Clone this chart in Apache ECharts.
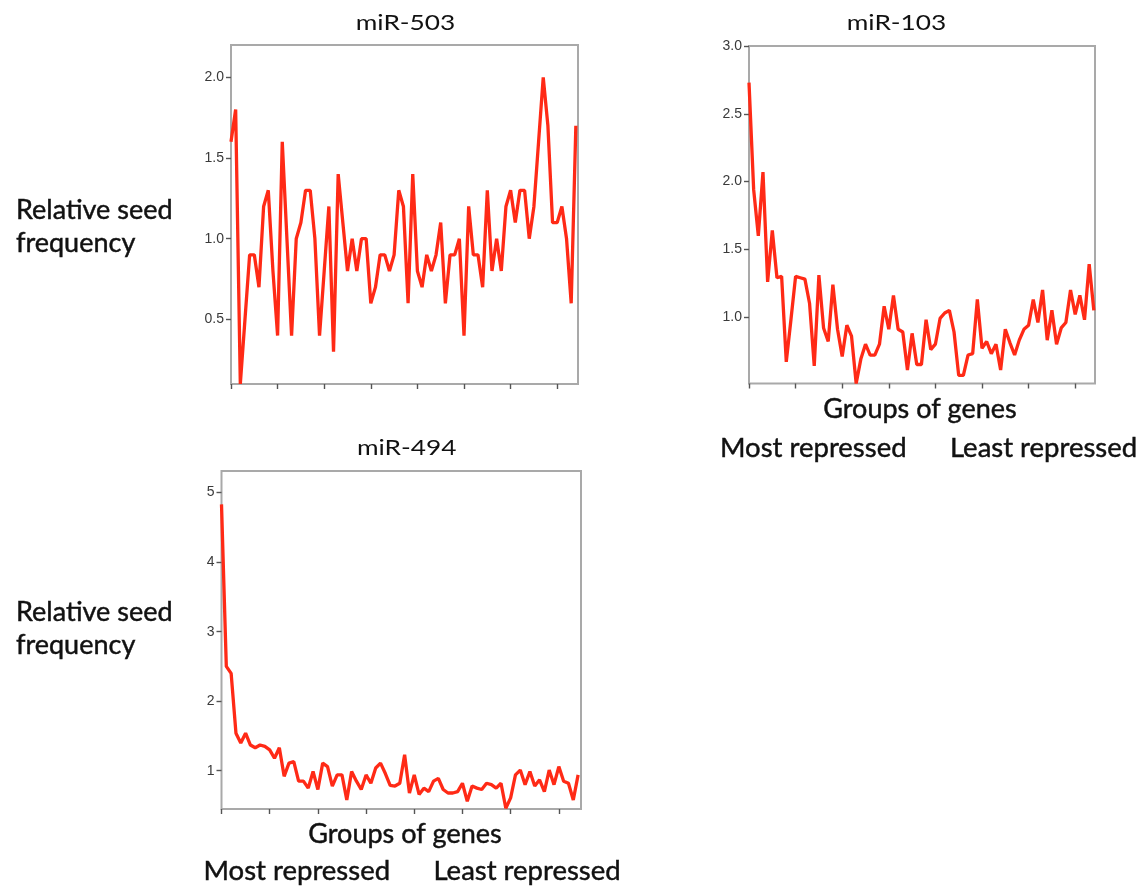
<!DOCTYPE html>
<html>
<head>
<meta charset="utf-8">
<script src="https://cdn.jsdelivr.net/npm/echarts@6/dist/echarts.min.js"></script>
<style>
  html, body { margin: 0; padding: 0; background: #fff; }
  #chart { width: 1144px; height: 888px; }
</style>
</head>
<body>
<div id="chart"></div>
<script>
// Relative seed frequency for 75 gene groups, ordered from most to least repressed
const mir503 = [
  1.6, 1.8, 0.1, 0.5, 0.9, 0.9, 0.7, 1.2, 1.3, 0.8,
  0.4, 1.6, 1.0, 0.4, 1.0, 1.1, 1.3, 1.3, 1.0, 0.4,
  0.8, 1.2, 0.3, 1.4, 1.1, 0.8, 1.0, 0.8, 1.0, 1.0,
  0.6, 0.7, 0.9, 0.9, 0.8, 0.9, 1.3, 1.2, 0.6, 1.4,
  0.8, 0.7, 0.9, 0.8, 0.9, 1.1, 0.6, 0.9, 0.9, 1.0,
  0.4, 1.2, 0.9, 0.9, 0.7, 1.3, 0.8, 1.0, 0.8, 1.2,
  1.3, 1.1, 1.3, 1.3, 1.0, 1.2, 1.6, 2.0, 1.7, 1.1,
  1.1, 1.2, 1.0, 0.6, 1.7
];
const mir103 = [
  2.73, 1.94, 1.60, 2.07, 1.26, 1.64, 1.29, 1.30, 0.67, 0.98,
  1.30, 1.29, 1.28, 1.10, 0.64, 1.31, 0.92, 0.82, 1.24, 0.91,
  0.71, 0.94, 0.86, 0.51, 0.69, 0.80, 0.72, 0.72, 0.80, 1.08,
  0.91, 1.16, 0.91, 0.89, 0.61, 0.88, 0.65, 0.65, 0.98, 0.76,
  0.80, 0.99, 1.03, 1.05, 0.89, 0.57, 0.57, 0.72, 0.73, 1.13,
  0.77, 0.82, 0.73, 0.80, 0.61, 0.91, 0.81, 0.72, 0.83, 0.91,
  0.94, 1.13, 0.96, 1.20, 0.83, 1.05, 0.80, 0.92, 0.96, 1.20,
  1.02, 1.16, 0.98, 1.39, 1.05
];
const mir494 = [
  4.83, 2.50, 2.40, 1.54, 1.40, 1.54, 1.37, 1.33, 1.37, 1.35,
  1.30, 1.18, 1.33, 0.92, 1.11, 1.13, 0.85, 0.85, 0.75, 0.99,
  0.73, 1.11, 1.06, 0.78, 0.94, 0.94, 0.58, 0.99, 0.85, 0.73,
  0.94, 0.82, 1.04, 1.11, 0.96, 0.79, 0.78, 0.82, 1.23, 0.68,
  0.94, 0.66, 0.75, 0.70, 0.85, 0.89, 0.73, 0.68, 0.68, 0.70,
  0.82, 0.56, 0.78, 0.75, 0.73, 0.82, 0.80, 0.75, 0.82, 0.46,
  0.61, 0.94, 1.01, 0.80, 0.99, 0.78, 0.87, 0.70, 1.01, 0.80,
  1.06, 0.85, 0.82, 0.58, 0.94
];

// Axis tick positions
const ticks503 = [0.5, 1.0, 1.5, 2.0];
const ticks103 = [1.0, 1.5, 2.0, 2.5, 3.0];
const ticks494 = [1, 2, 3, 4, 5];
const groupTicks = [0, 10, 20, 30, 40, 50, 60, 70];

// Text
const panelTitles = ['miR-503', 'miR-103', 'miR-494'];
const yTitle = ['Relative seed', 'frequency'];
const xTitle = 'Groups of genes';
const xEnds = ['Most repressed', 'Least repressed'];

const LINE = '#ff2a16';
const BORDER = '#a9a9a9';
const LABEL_FONT = '"Liberation Sans", Arial, sans-serif';
const TEXT_FONT = 'Lato, "Noto Sans", sans-serif';
const INK = '#111111';

const panels = [
  { data: mir503, ticks: ticks503, dec: 1, grid: { left: 231, top: 45, width: 347, height: 339 }, y: [0.1, 2.2], xMax: 74.46 },
  { data: mir103, ticks: ticks103, dec: 1, grid: { left: 749, top: 46, width: 346, height: 337.5 }, y: [0.51, 3.0], xMax: 74.25 },
  { data: mir494, ticks: ticks494, dec: 0, grid: { left: 221.5, top: 471, width: 359.5, height: 338 }, y: [0.45, 5.31], xMax: 74.6 }
];

const grid = panels.map(p => Object.assign({
  show: true, borderColor: BORDER, borderWidth: 2, backgroundColor: '#fff'
}, p.grid));

const xAxis = panels.map((p, i) => ({
  type: 'value', gridIndex: i, min: 0, max: p.xMax,
  axisLine: { show: false },
  splitLine: { show: false },
  axisLabel: { show: false },
  axisTick: { show: true, customValues: groupTicks, length: 5, lineStyle: { color: '#555', width: 1.4 } }
}));

const yAxis = panels.map((p, i) => ({
  type: 'value', gridIndex: i, min: p.y[0], max: p.y[1],
  axisLine: { show: false },
  splitLine: { show: false },
  axisTick: { show: true, customValues: p.ticks, length: 5, lineStyle: { color: '#555', width: 1.4 } },
  axisLabel: {
    customValues: p.ticks, margin: 7,
    color: '#3a3a3a', fontSize: 14, fontFamily: LABEL_FONT,
    formatter: v => Number(v).toFixed(p.dec)
  }
}));

const series = panels.map((p, i) => ({
  type: 'line', xAxisIndex: i, yAxisIndex: i,
  data: p.data.map((v, k) => [k, v]),
  showSymbol: false, symbol: 'none',
  lineStyle: { color: LINE, width: 3.3 },
  silent: true, animation: false
}));

function label(text, x, y, size, align, scaleX, weight) {
  return {
    type: 'text', x: x, y: y, scaleX: scaleX || 1, silent: true,
    style: {
      text: text, font: size + 'px ' + TEXT_FONT, fill: INK,
      stroke: INK, lineWidth: weight,
      align: align, verticalAlign: 'middle'
    }
  };
}

const graphic = [
  label(panelTitles[0], 405.5, 23, 21, 'center', 1.25, 0),
  label(panelTitles[1], 896.5, 23, 21, 'center', 1.25, 0),
  label(panelTitles[2], 406.7, 448, 21, 'center', 1.25, 0),
  label(yTitle[0], 16, 210, 27, 'left', 1, 0.45),
  label(yTitle[1], 16, 243, 27, 'left', 1, 0.45),
  label(yTitle[0], 16, 612, 27, 'left', 1, 0.45),
  label(yTitle[1], 16, 645, 27, 'left', 1, 0.45),
  label(xTitle, 920, 409, 27, 'center', 1, 0.45),
  label(xEnds[0], 720, 448, 27.5, 'left', 1, 0.45),
  label(xEnds[1], 950, 448, 27.5, 'left', 1, 0.45),
  label(xTitle, 405, 834, 27, 'center', 1, 0.45),
  label(xEnds[0], 203.5, 871, 27.5, 'left', 1, 0.45),
  label(xEnds[1], 433.5, 871, 27.5, 'left', 1, 0.45)
];

const chart = echarts.init(document.getElementById('chart'), null, { renderer: 'canvas' });
chart.setOption({
  animation: false,
  backgroundColor: '#fff',
  grid: grid,
  xAxis: xAxis,
  yAxis: yAxis,
  series: series,
  graphic: graphic
});
</script>
</body>
</html>
